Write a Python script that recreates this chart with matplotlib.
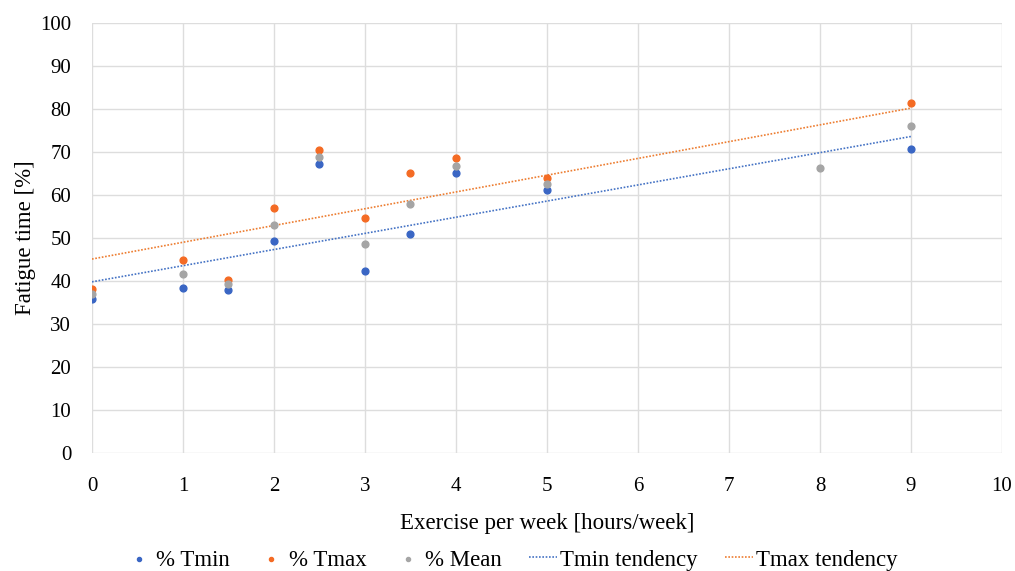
import matplotlib.pyplot as plt

# values
hours = [0, 1, 1.5, 2, 2.5, 3, 3.5, 4, 5, 9]
tmin = [35.8, 38.3, 38.0, 49.3, 67.2, 42.4, 50.9, 65.0, 61.2, 70.6]
tmax = [38.2, 44.9, 40.3, 57.0, 70.4, 54.7, 65.1, 68.5, 63.9, 81.4]
mean_hours = [0, 1, 1.5, 2, 2.5, 3, 3.5, 4, 5, 8, 9]
mean_vals = [37.0, 41.6, 39.2, 53.1, 68.8, 48.6, 58.0, 66.7, 62.5, 66.2, 76.0]

# trend line end points (Excel linear trendlines)
trend_x = [0, 9]
tmin_trend = [39.8, 73.6]
tmax_trend = [45.1, 80.2]

blue = '#3A66C4'
orange = '#F46B24'
gray = '#A5A5A5'

plt.rcParams['font.family'] = ['Liberation Serif', 'DejaVu Serif']

fig = plt.figure(figsize=(10.15, 5.71), dpi=100)
ax = fig.add_axes([0.0906, 0.2067, 0.8966, 0.7531])

ax.scatter(hours, tmin, s=24, color=blue, label='% Tmin', zorder=3)
ax.scatter(hours, tmax, s=24, color=orange, label='% Tmax', zorder=3)
ax.scatter(mean_hours, mean_vals, s=24, color=gray, label='% Mean', zorder=3)

ax.plot(trend_x, tmin_trend, color='#4472C4', ls=(0, (1, 1)), lw=1.2, label='Tmin tendency')
ax.plot(trend_x, tmax_trend, color='#ED7D31', ls=(0, (1, 1)), lw=1.2, label='Tmax tendency')

ax.set_xlim(0, 10)
ax.set_ylim(0, 100)
ax.set_xticks(range(0, 11))
ax.set_yticks(range(0, 101, 10))
ax.grid(True, color='#DDDDDD', lw=1)
ax.set_axisbelow(True)
for s in ax.spines.values():
    s.set_visible(False)
ax.tick_params(length=0, labelsize=15)
ax.tick_params(axis='y', pad=15)
ax.tick_params(axis='x', pad=17)

ax.set_xlabel('Exercise per week [hours/week]', fontsize=16.5)
ax.set_ylabel('Fatigue time [%]', fontsize=16.5)
ax.xaxis.set_label_coords(0.5, -0.14)
ax.yaxis.set_label_coords(-0.061, 0.5)

handles, labels = ax.get_legend_handles_labels()
fig.legend(handles, labels, loc='center', bbox_to_anchor=(0.504, 0.0193), ncol=5,
           frameon=False, fontsize=16.5, handlelength=1.2, handletextpad=0.15,
           columnspacing=1.2, markerscale=0.6, borderpad=0)

plt.savefig('out.png', dpi=100)
